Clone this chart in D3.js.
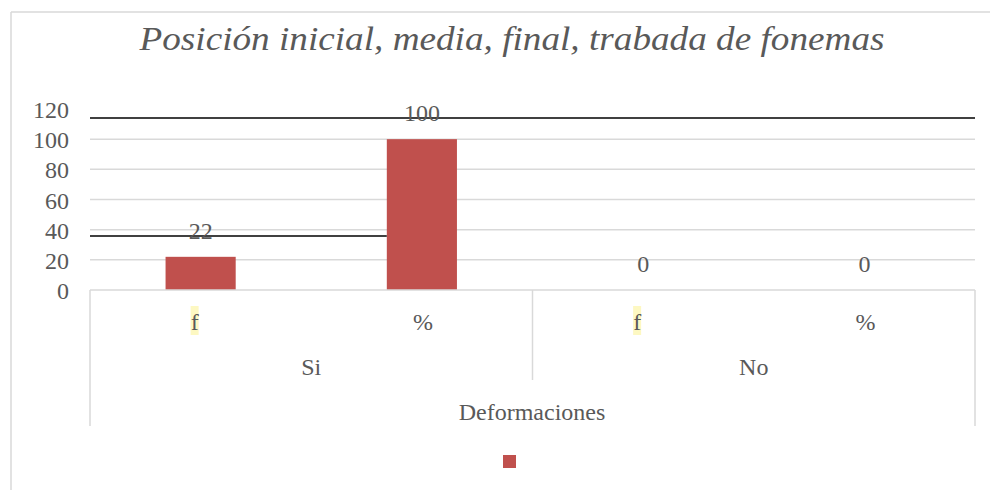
<!DOCTYPE html>
<html>
<head>
<meta charset="utf-8">
<script src="https://cdn.jsdelivr.net/npm/d3@7"></script>
<style>
  body { margin: 0; background: #fff; }
  text { font-family: "Liberation Serif", "DejaVu Serif", serif; fill: #595959; }
</style>
</head>
<body>
<div id="chart"></div>
<script>
"use strict";

// data
let groups = ["Si", "No"];
let measures = ["f", "%"];
let values = [22, 100, 0, 0];
let yTicks = [0, 20, 40, 60, 80, 100, 120];
let titleText = "Posición inicial, media, final, trabada de fonemas";
let axisTitle = "Deformaciones";

// build category keys
let cats = [];
for (let g = 0; g < groups.length; g++) {
  for (let m = 0; m < measures.length; m++) {
    cats.push({group: groups[g], measure: measures[m], key: groups[g] + "|" + measures[m], value: values[g * measures.length + m]});
  }
}

let svg = d3.select("#chart")
  .append("svg")
  .attr("width", 990)
  .attr("height", 490);

// chart border (top and left visible)
svg.append("line").attr("x1", 11).attr("x2", 990).attr("y1", 12).attr("y2", 12)
  .attr("stroke", "#d9d9d9").attr("stroke-width", 1.5);
svg.append("line").attr("x1", 11).attr("x2", 11).attr("y1", 12).attr("y2", 490)
  .attr("stroke", "#d9d9d9").attr("stroke-width", 1.5);

// scales
let xScale = d3.scaleBand()
  .domain(cats.map(d => d.key))
  .range([90, 975])
  .paddingInner(0.683)
  .paddingOuter(0.3415);

let groupScale = d3.scaleBand()
  .domain(groups)
  .range([90, 975]);

let yScale = d3.scaleLinear()
  .domain([0, 120])
  .range([290, 109]);

// gridlines
svg.append("g")
  .selectAll("line")
  .data(yTicks.filter(t => t > 0 && t < 120))
  .join("line")
  .attr("x1", 90)
  .attr("x2", 975)
  .attr("y1", d => yScale(d))
  .attr("y2", d => yScale(d))
  .attr("stroke", "#d9d9d9")
  .attr("stroke-width", 1.5);

// y tick labels
svg.append("g")
  .selectAll("text")
  .data(yTicks)
  .join("text")
  .attr("x", 69)
  .attr("y", d => yScale(d) + 9)
  .attr("text-anchor", "end")
  .attr("font-size", 24)
  .text(d => d);

// bars
svg.append("g")
  .selectAll("rect")
  .data(cats)
  .join("rect")
  .attr("x", d => xScale(d.key))
  .attr("y", d => yScale(d.value))
  .attr("width", xScale.bandwidth())
  .attr("height", d => yScale(0) - yScale(d.value))
  .attr("fill", "#c0504d");

// dark overlay lines seen in the picture
svg.append("line").attr("x1", 90).attr("x2", 975).attr("y1", 118).attr("y2", 118)
  .attr("stroke", "#404040").attr("stroke-width", 2);
svg.append("line").attr("x1", 90).attr("x2", xScale("Si|%")).attr("y1", 236).attr("y2", 236)
  .attr("stroke", "#404040").attr("stroke-width", 2);

// value labels
svg.append("g")
  .selectAll("text")
  .data(cats)
  .join("text")
  .attr("x", d => xScale(d.key) + xScale.bandwidth() / 2)
  .attr("y", d => yScale(d.value) - 18)
  .attr("text-anchor", "middle")
  .attr("font-size", 24)
  .text(d => d.value);

// category axis lines
svg.append("line").attr("x1", 90).attr("x2", 975).attr("y1", 290).attr("y2", 290)
  .attr("stroke", "#d9d9d9").attr("stroke-width", 1.5);
svg.append("line").attr("x1", 90).attr("x2", 90).attr("y1", 290).attr("y2", 426)
  .attr("stroke", "#d9d9d9").attr("stroke-width", 1.5);
svg.append("line").attr("x1", 975).attr("x2", 975).attr("y1", 290).attr("y2", 426)
  .attr("stroke", "#d9d9d9").attr("stroke-width", 1.5);
svg.append("line").attr("x1", groupScale("No")).attr("x2", groupScale("No")).attr("y1", 290).attr("y2", 380)
  .attr("stroke", "#d9d9d9").attr("stroke-width", 1.5);

// highlight behind "f"
svg.append("g")
  .selectAll("rect")
  .data(cats.filter(d => d.measure === "f"))
  .join("rect")
  .attr("x", d => xScale(d.key) + xScale.bandwidth() / 2 - 10)
  .attr("y", 306)
  .attr("width", 8)
  .attr("height", 29)
  .attr("fill", "#fdf8c2");

// measure labels
svg.append("g")
  .selectAll("text")
  .data(cats)
  .join("text")
  .attr("x", d => xScale(d.key) + xScale.bandwidth() / 2 + (d.measure === "f" ? -6 : 1))
  .attr("y", 330)
  .attr("text-anchor", "middle")
  .attr("font-size", 24)
  .text(d => d.measure);

// group labels
svg.append("g")
  .selectAll("text")
  .data(groups)
  .join("text")
  .attr("x", d => groupScale(d) + groupScale.bandwidth() / 2)
  .attr("y", 375)
  .attr("text-anchor", "middle")
  .attr("font-size", 24)
  .text(d => d);

// axis title
svg.append("text")
  .attr("x", 532)
  .attr("y", 420)
  .attr("text-anchor", "middle")
  .attr("font-size", 24)
  .text(axisTitle);

// chart title
svg.append("text")
  .attr("x", 512)
  .attr("y", 50)
  .attr("text-anchor", "middle")
  .attr("font-size", 34)
  .attr("font-style", "italic")
  .attr("textLength", 745)
  .attr("lengthAdjust", "spacingAndGlyphs")
  .text(titleText);

// legend
svg.append("rect")
  .attr("x", 503)
  .attr("y", 455)
  .attr("width", 13)
  .attr("height", 13)
  .attr("fill", "#c0504d");
</script>
</body>
</html>
